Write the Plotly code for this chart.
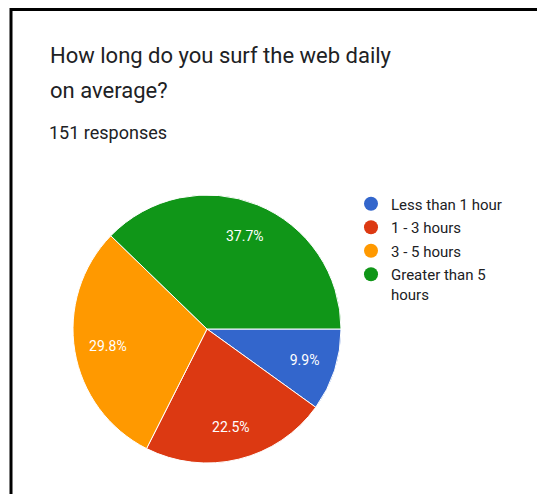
import plotly.graph_objects as go

categories = ["Less than 1 hour", "1 - 3 hours", "3 - 5 hours", "Greater than 5<br>hours"]
counts = [15, 34, 45, 57]
colors = ["#3366cc", "#dc3912", "#ff9900", "#109618"]
title_lines = ["How long do you surf the web daily", "on average?"]
subtitle = "151 responses"

W, H = 537, 494
FONT = "Roboto, Arial, sans-serif"

cx, cy, R = 207, 329, 134
dom_x = [(cx - R) / W, (cx + R) / W]
dom_y = [1 - (cy + R) / H, 1 - (cy - R) / H]

fig = go.Figure()

# main pie (no text)
fig.add_trace(go.Pie(
    labels=categories, values=counts, sort=False, direction="clockwise",
    rotation=90, marker=dict(colors=colors, line=dict(color="white", width=1)),
    textinfo="none", showlegend=False, domain=dict(x=dom_x, y=dom_y),
    hoverinfo="label+percent",
))
# transparent ring overlay to place percentage labels
fig.add_trace(go.Pie(
    labels=categories, values=counts, sort=False, direction="clockwise",
    rotation=90, hole=0.5,
    marker=dict(colors=["rgba(0,0,0,0)"] * len(counts), line=dict(width=0)),
    texttemplate="%{percent:.1%}", textposition="inside",
    insidetextorientation="horizontal",
    textfont=dict(color="white", size=14, family=FONT),
    showlegend=False, domain=dict(x=dom_x, y=dom_y), hoverinfo="skip",
))

# legend entries with circle symbols
for i, (name, col) in enumerate(zip(categories, colors)):
    fig.add_trace(go.Scatter(
        x=[None], y=[None], mode="markers", name=name,
        marker=dict(color=col, size=14, symbol="circle"),
        legendgroup=f"g{i}", hoverinfo="skip",
    ))

fig.add_annotation(text=title_lines[0], x=48 / W, y=1 - 56 / H, xref="paper", yref="paper",
                   xanchor="left", yanchor="middle", showarrow=False,
                   font=dict(family=FONT, size=22, color="#202124"))
fig.add_annotation(text=title_lines[1], x=48 / W, y=1 - 90 / H, xref="paper", yref="paper",
                   xanchor="left", yanchor="middle", showarrow=False,
                   font=dict(family=FONT, size=22, color="#202124"))
fig.add_annotation(text=subtitle, x=47 / W, y=1 - 132 / H, xref="paper", yref="paper",
                   xanchor="left", yanchor="middle", showarrow=False,
                   font=dict(family=FONT, size=18, color="#202124"))

# frame lines (top and left)
fig.add_shape(type="line", xref="paper", yref="paper", x0=10 / W, x1=1, y0=1 - 9.5 / H, y1=1 - 9.5 / H,
              line=dict(color="black", width=3))
fig.add_shape(type="line", xref="paper", yref="paper", x0=11 / W, x1=11 / W, y0=0, y1=1 - 8 / H,
              line=dict(color="black", width=3))

hidden_axis = dict(visible=False, showgrid=False, zeroline=False, showline=False,
                   domain=[0, 0.05], fixedrange=True)
fig.update_layout(
    width=W, height=H, margin=dict(l=0, r=0, t=0, b=0),
    paper_bgcolor="white", plot_bgcolor="white",
    xaxis=hidden_axis, yaxis=hidden_axis,
    legend=dict(x=351 / W, y=1 - 187.5 / H, xanchor="left", yanchor="top",
                font=dict(family=FONT, size=15, color="#202124"),
                valign="top", tracegroupgap=1, bgcolor="rgba(0,0,0,0)"),
    uniformtext=dict(minsize=12, mode="show"),
    font=dict(family=FONT),
)

fig.write_html(
    "out.html",
    post_script="document.body.style.margin='0';document.body.style.overflow='hidden';"
                "document.documentElement.style.overflow='hidden';",
)
